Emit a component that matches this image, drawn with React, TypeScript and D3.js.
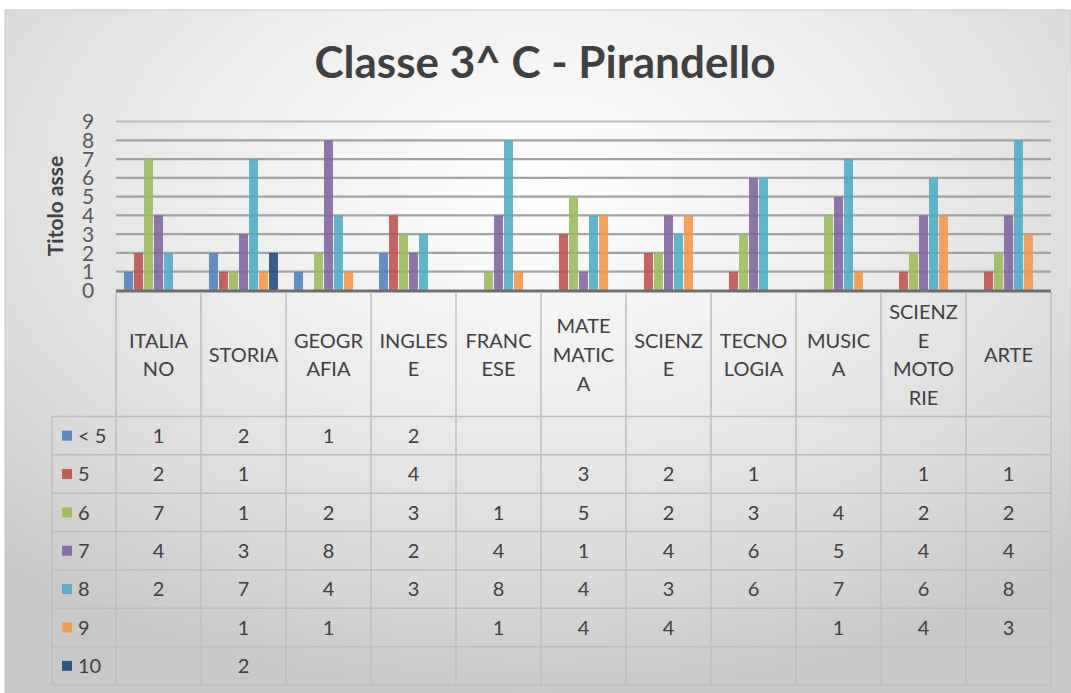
import React from "react";
import * as d3 from "d3";

const title = "Classe 3^ C - Pirandello";
const axisTitle = "Titolo asse";
const categories = [
  "ITALIANO", "STORIA", "GEOGRAFIA", "INGLESE", "FRANCESE", "MATEMATICA",
  "SCIENZE", "TECNOLOGIA", "MUSICA", "SCIENZE MOTORIE", "ARTE",
];
const categoryLines = [
  ["ITALIA", "NO"], ["STORIA"], ["GEOGR", "AFIA"], ["INGLES", "E"], ["FRANC", "ESE"],
  ["MATE", "MATIC", "A"], ["SCIENZ", "E"], ["TECNO", "LOGIA"], ["MUSIC", "A"],
  ["SCIENZ", "E", "MOTO", "RIE"], ["ARTE"],
];
const seriesNames = ["< 5", "5", "6", "7", "8", "9", "10"];
const seriesColors = ["#4F81BD", "#C0504D", "#9BBB59", "#8064A2", "#4BACC6", "#F79646", "#1F497D"];
const sLt5 = [1, 2, 1, 2, null, null, null, null, null, null, null];
const s5 = [2, 1, null, 4, null, 3, 2, 1, null, 1, 1];
const s6 = [7, 1, 2, 3, 1, 5, 2, 3, 4, 2, 2];
const s7 = [4, 3, 8, 2, 4, 1, 4, 6, 5, 4, 4];
const s8 = [2, 7, 4, 3, 8, 4, 3, 6, 7, 6, 8];
const s9 = [null, 1, 1, null, 1, 4, 4, null, 1, 4, 3];
const s10 = [null, 2, null, null, null, null, null, null, null, null, null];
const seriesValues: (number | null)[][] = [sLt5, s5, s6, s7, s8, s9, s10];
const yTicks = [0, 1, 2, 3, 4, 5, 6, 7, 8, 9];

const W = 1071, H = 693;
const FONT = "Lato, 'Open Sans', sans-serif";
const TXT = "#404040";

export default function App() {
  const plotL = 116, plotR = 1051;
  const y = d3.scaleLinear().domain([0, 9]).range([290.5, 121.5]);
  const x = d3.scaleBand<string>().domain(categories).range([plotL, plotR]).paddingInner(0).paddingOuter(0);
  const bw = x.bandwidth();
  const inner = d3.scaleBand<string>().domain(seriesNames).range([7.5, bw - 7.5]).paddingInner(0.1).paddingOuter(0.05);

  const headerTop = 291, headerBottom = 416.5, tableBottom = 685;
  const legendL = 52;
  const rowH = (tableBottom - headerBottom) / seriesNames.length;
  const lineH = 28.7;
  const headerMid = (headerTop + headerBottom) / 2 + 1;

  return (
    <svg width={W} height={H} style={{ position: "absolute", left: 0, top: 0, background: "#fff" }} fontFamily={FONT}>
      <defs>
        <radialGradient id="bg" cx="0.5" cy="0.25" r="0.75" gradientUnits="objectBoundingBox">
          <stop offset="0" stopColor="#FFFFFF" />
          <stop offset="0.45" stopColor="#ECECEC" />
          <stop offset="0.8" stopColor="#D8D8D8" />
          <stop offset="1" stopColor="#C8C8C8" />
        </radialGradient>
      </defs>
      <rect x={5} y={10} width={W - 5} height={H - 10} fill="url(#bg)" stroke="#C8C8C8" strokeWidth={1} />
      <text x={545} y={78} textAnchor="middle" fontSize={44} fontWeight={700} fill="#404040">{title}</text>

      {/* gridlines */}
      {yTicks.filter(t => t > 0).map(t => (
        <line key={t} x1={plotL} x2={plotR} y1={y(t)} y2={y(t)} stroke={t === 9 ? "#BDBDBD" : "#A3A3A3"} strokeWidth={2.2} />
      ))}
      {/* y tick labels */}
      {yTicks.map(t => (
        <text key={t} x={88} y={y(t)} dy="0.36em" textAnchor="middle" fontSize={21} fill="#595959">{t}</text>
      ))}
      <text transform={`translate(63,206) rotate(-90)`} textAnchor="middle" fontSize={21} fontWeight={700} fill={TXT}>{axisTitle}</text>

      {/* bars */}
      {seriesValues.map((vals, si) => (
        <g key={si} fill={seriesColors[si]} fillOpacity={0.88}>
          {vals.map((v, ci) => v == null ? null : (
            <rect key={ci} x={(x(categories[ci]) as number) + (inner(seriesNames[si]) as number)} y={y(v)}
              width={inner.bandwidth()} height={y(0) - y(v)} />
          ))}
        </g>
      ))}
      <line x1={plotL} x2={plotR} y1={y(0) + 0.5} y2={y(0) + 0.5} stroke="#707070" strokeWidth={3} />

      {/* table grid */}
      <g stroke="#BEBEBE" strokeWidth={1.5}>
        {d3.range(categories.length + 1).map(i => {
          const xx = plotL + i * bw;
          return <line key={i} x1={xx} x2={xx} y1={headerTop + 1} y2={tableBottom} />;
        })}
        <line x1={legendL} x2={legendL} y1={headerBottom} y2={tableBottom} />
        {d3.range(seriesNames.length + 1).map(i => {
          const yy = headerBottom + i * rowH;
          return <line key={i} x1={legendL} x2={plotR} y1={yy} y2={yy} />;
        })}
      </g>
      {/* header labels */}
      {categoryLines.map((lines, ci) => {
        const cx = (x(categories[ci]) as number) + bw / 2;
        const start = headerMid - ((lines.length - 1) * lineH) / 2;
        return (
          <text key={ci} textAnchor="middle" fontSize={20} fill={TXT}>
            {lines.map((l, li) => (
              <tspan key={li} x={cx} y={start + li * lineH} dy="0.36em">{l}</tspan>
            ))}
          </text>
        );
      })}
      {/* legend + values */}
      {seriesNames.map((s, si) => {
        const cy = headerBottom + (si + 0.5) * rowH;
        return (
          <g key={si}>
            <rect x={62} y={cy - 5} width={10} height={10} fill={seriesColors[si]} fillOpacity={0.9} />
            <text x={78} y={cy} dy="0.36em" fontSize={20} fill={TXT}>{s}</text>
            {seriesValues[si].map((v, ci) => v == null ? null : (
              <text key={ci} x={(x(categories[ci]) as number) + bw / 2} y={cy} dy="0.36em" textAnchor="middle" fontSize={20} fill={TXT}>{v}</text>
            ))}
          </g>
        );
      })}
    </svg>
  );
}
